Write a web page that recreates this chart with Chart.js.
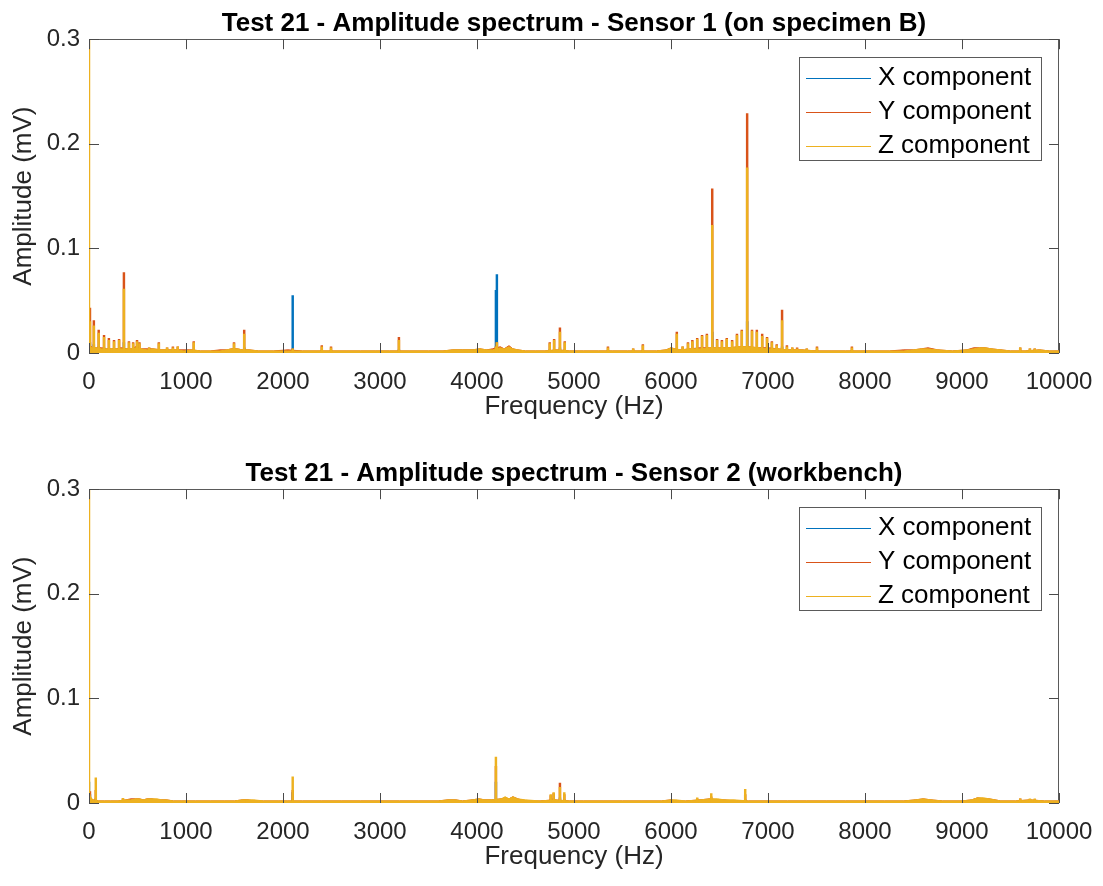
<!DOCTYPE html>
<html><head><meta charset="utf-8">
<script src="https://cdn.jsdelivr.net/npm/chart.js@4.4.1/dist/chart.umd.min.js"></script>
<style>
body{margin:0;background:#fff;}
#wrap{position:relative;width:1103px;height:886px;background:#fff;}
canvas{position:absolute;left:0;}
</style></head><body>
<div id="wrap">
<canvas id="c1" width="1103" height="436" style="top:0px"></canvas>
<canvas id="c2" width="1103" height="436" style="top:450px"></canvas>
</div>
<script>
// ---------- series meta ----------
const seriesLabels = ['X component', 'Y component', 'Z component'];
const seriesColors = ['#0072BD', '#D95319', '#EDB120'];
const chartTitles = ['Test 21 - Amplitude spectrum - Sensor 1 (on specimen B)',
                     'Test 21 - Amplitude spectrum - Sensor 2 (workbench)'];
const xAxisTitle = 'Frequency (Hz)';
const yAxisTitle = 'Amplitude (mV)';

// ---------- Sensor 1: broadband floor (Hz / mV) ----------
const s1BaseFreq = [
  0, 15, 40, 80, 130, 180, 230, 280, 330, 390,
  440, 480, 540, 600, 660, 740, 820, 900, 980, 1060,
  1150, 1250, 1350, 1420, 1470, 1530, 1580, 1650, 1750, 1900,
  2050, 2200, 2350, 2500, 2650, 2800, 2950, 3100, 3300, 3500,
  3650, 3750, 3850, 3950, 4030, 4100, 4160, 4240, 4280, 4330,
  4370, 4420, 4500, 4600, 4700, 4830, 4950, 5100, 5250, 5400,
  5550, 5700, 5850, 5950, 6000, 6040, 6100, 6200, 6300, 6400,
  6500, 6600, 6700, 6800, 6900, 7000, 7100, 7200, 7350, 7500,
  7650, 7800, 7950, 8100, 8250, 8400, 8500, 8580, 8650, 8750,
  8900, 9050, 9120, 9180, 9240, 9300, 9400, 9500, 9650, 9800,
  9900, 10000];
const s1BaseX = [
  0.006, 0.004, 0.003, 0.003, 0.002, 0.002, 0.002, 0.002, 0.002, 0.002,
  0.002, 0.002, 0.002, 0.002, 0.002, 0.002, 0.001, 0.001, 0.001, 0.001,
  0.001, 0.001, 0.001, 0.001, 0.002, 0.002, 0.001, 0.001, 0.001, 0.001,
  0.001, 0.001, 0.001, 0.001, 0.001, 0.001, 0.001, 0.001, 0.001, 0.001,
  0.001, 0.002, 0.002, 0.002, 0.002, 0.002, 0.002, 0.003, 0.002, 0.003,
  0.002, 0.002, 0.001, 0.001, 0.001, 0.002, 0.001, 0.001, 0.001, 0.001,
  0.001, 0.001, 0.001, 0.002, 0.003, 0.002, 0.002, 0.002, 0.002, 0.003,
  0.003, 0.003, 0.003, 0.003, 0.003, 0.002, 0.002, 0.002, 0.002, 0.001,
  0.001, 0.001, 0.001, 0.001, 0.001, 0.001, 0.002, 0.002, 0.002, 0.002,
  0.001, 0.002, 0.002, 0.003, 0.003, 0.002, 0.002, 0.001, 0.001, 0.002,
  0.001, 0.001];
const s1BaseY = [
  0.012, 0.007, 0.005, 0.005, 0.005, 0.004, 0.004, 0.004, 0.005, 0.004,
  0.004, 0.006, 0.004, 0.004, 0.004, 0.003, 0.003, 0.003, 0.003, 0.003,
  0.002, 0.002, 0.003, 0.003, 0.004, 0.004, 0.003, 0.003, 0.002, 0.002,
  0.003, 0.002, 0.002, 0.002, 0.002, 0.002, 0.002, 0.002, 0.002, 0.002,
  0.002, 0.003, 0.003, 0.003, 0.004, 0.003, 0.004, 0.006, 0.004, 0.007,
  0.004, 0.003, 0.002, 0.002, 0.002, 0.003, 0.002, 0.002, 0.002, 0.002,
  0.002, 0.002, 0.002, 0.003, 0.005, 0.004, 0.003, 0.004, 0.005, 0.005,
  0.005, 0.005, 0.006, 0.006, 0.005, 0.005, 0.004, 0.003, 0.003, 0.002,
  0.002, 0.002, 0.002, 0.002, 0.002, 0.003, 0.003, 0.004, 0.005, 0.003,
  0.002, 0.003, 0.005, 0.005, 0.005, 0.004, 0.003, 0.002, 0.002, 0.003,
  0.002, 0.002];
const s1BaseZ = [
  0.009, 0.006, 0.005, 0.005, 0.004, 0.004, 0.004, 0.004, 0.004, 0.004,
  0.004, 0.005, 0.004, 0.003, 0.004, 0.003, 0.003, 0.003, 0.002, 0.003,
  0.002, 0.002, 0.002, 0.003, 0.004, 0.004, 0.003, 0.003, 0.002, 0.002,
  0.002, 0.002, 0.002, 0.002, 0.002, 0.002, 0.002, 0.002, 0.002, 0.002,
  0.002, 0.003, 0.003, 0.003, 0.004, 0.003, 0.003, 0.005, 0.004, 0.006,
  0.004, 0.003, 0.002, 0.002, 0.002, 0.003, 0.002, 0.002, 0.002, 0.002,
  0.002, 0.002, 0.002, 0.003, 0.005, 0.004, 0.003, 0.004, 0.004, 0.005,
  0.005, 0.005, 0.006, 0.006, 0.005, 0.004, 0.004, 0.003, 0.003, 0.002,
  0.002, 0.002, 0.002, 0.002, 0.002, 0.002, 0.003, 0.004, 0.004, 0.003,
  0.002, 0.003, 0.004, 0.005, 0.005, 0.004, 0.003, 0.002, 0.002, 0.003,
  0.002, 0.002];

// ---------- Sensor 1: spectral lines (Hz / mV) ----------
const s1PeakFreq = [
  0, 10, 50, 100, 155, 205, 258, 310, 360, 412,
  455, 495, 520, 620, 720, 805, 865, 915, 1080, 1495,
  1600, 2100, 2400, 2495, 3195, 4195, 4205, 4750, 4795, 4855,
  4905, 5350, 5610, 5710, 6060, 6120, 6175, 6220, 6270, 6320,
  6370, 6425, 6475, 6525, 6575, 6630, 6680, 6730, 6785, 6835,
  6885, 6940, 6990, 7040, 7090, 7145, 7195, 7250, 7300, 7400,
  7505, 7865, 9600, 9700, 9750];
const s1PeakX = [
  0.020, 0.010, 0.008, 0.006, 0.005, 0.004, 0.004, 0.004, 0.010, 0.003,
  0.003, 0.003, 0.003, 0.002, 0.003, 0.002, 0.002, 0.002, 0.003, 0.003,
  0.005, 0.055, 0.002, 0.002, 0.003, 0.060, 0.075, 0.003, 0.003, 0.005,
  0.003, 0.002, 0.002, 0.002, 0.004, 0.003, 0.003, 0.003, 0.003, 0.004,
  0.004, 0.020, 0.003, 0.003, 0.003, 0.003, 0.004, 0.004, 0.030, 0.004,
  0.004, 0.004, 0.003, 0.003, 0.003, 0.006, 0.002, 0.002, 0.002, 0.002,
  0.002, 0.002, 0.002, 0.002, 0.002];
const s1PeakY = [
  0.040, 0.043, 0.031, 0.022, 0.017, 0.014, 0.012, 0.013, 0.077, 0.011,
  0.010, 0.012, 0.010, 0.005, 0.010, 0.005, 0.006, 0.006, 0.011, 0.010,
  0.022, 0.004, 0.007, 0.006, 0.015, 0.006, 0.010, 0.010, 0.013, 0.024,
  0.011, 0.006, 0.004, 0.008, 0.020, 0.006, 0.010, 0.012, 0.014, 0.017,
  0.018, 0.157, 0.013, 0.012, 0.014, 0.012, 0.018, 0.022, 0.229, 0.022,
  0.022, 0.018, 0.015, 0.011, 0.008, 0.041, 0.007, 0.005, 0.005, 0.004,
  0.006, 0.006, 0.005, 0.004, 0.004];
const s1PeakZ = [
  0.300, 0.030, 0.026, 0.019, 0.015, 0.012, 0.011, 0.012, 0.061, 0.010,
  0.009, 0.011, 0.009, 0.005, 0.009, 0.005, 0.005, 0.006, 0.010, 0.009,
  0.018, 0.004, 0.006, 0.005, 0.012, 0.006, 0.010, 0.009, 0.012, 0.020,
  0.010, 0.005, 0.004, 0.007, 0.018, 0.006, 0.009, 0.011, 0.013, 0.016,
  0.017, 0.122, 0.012, 0.011, 0.013, 0.011, 0.017, 0.021, 0.177, 0.021,
  0.020, 0.016, 0.014, 0.010, 0.007, 0.031, 0.006, 0.005, 0.004, 0.004,
  0.005, 0.005, 0.005, 0.004, 0.004];

// ---------- Sensor 2: broadband floor ----------
const s2BaseFreq = [
  0, 15, 40, 100, 160, 220, 300, 380, 430, 480,
  520, 560, 600, 650, 700, 750, 800, 870, 950, 1100,
  1250, 1400, 1500, 1580, 1640, 1700, 1800, 1950, 2050, 2200,
  2400, 2600, 2800, 3000, 3200, 3400, 3600, 3700, 3780, 3850,
  3950, 4020, 4080, 4150, 4250, 4290, 4330, 4370, 4420, 4500,
  4650, 4800, 4950, 5100, 5300, 5500, 5700, 5900, 6000, 6050,
  6150, 6300, 6400, 6480, 6550, 6650, 6800, 7000, 7200, 7400,
  7600, 7800, 8000, 8200, 8400, 8520, 8600, 8680, 8800, 9000,
  9100, 9160, 9220, 9280, 9400, 9550, 9700, 9850, 10000];
const s2BaseX = [
  0.006, 0.003, 0.002, 0.001, 0.001, 0.001, 0.001, 0.002, 0.002, 0.002,
  0.002, 0.002, 0.002, 0.002, 0.002, 0.002, 0.001, 0.001, 0.001, 0.001,
  0.001, 0.001, 0.001, 0.002, 0.002, 0.001, 0.001, 0.001, 0.001, 0.001,
  0.001, 0.001, 0.001, 0.001, 0.001, 0.001, 0.001, 0.002, 0.002, 0.001,
  0.002, 0.002, 0.002, 0.002, 0.002, 0.003, 0.002, 0.003, 0.002, 0.001,
  0.001, 0.001, 0.001, 0.001, 0.001, 0.001, 0.001, 0.001, 0.002, 0.001,
  0.001, 0.002, 0.002, 0.002, 0.002, 0.001, 0.001, 0.001, 0.001, 0.001,
  0.001, 0.001, 0.001, 0.001, 0.001, 0.002, 0.002, 0.002, 0.001, 0.001,
  0.002, 0.003, 0.003, 0.002, 0.001, 0.001, 0.002, 0.001, 0.001];
const s2BaseY = [
  0.010, 0.005, 0.003, 0.002, 0.002, 0.002, 0.002, 0.003, 0.004, 0.004,
  0.004, 0.003, 0.004, 0.004, 0.003, 0.003, 0.003, 0.002, 0.002, 0.002,
  0.002, 0.002, 0.002, 0.003, 0.003, 0.002, 0.002, 0.002, 0.002, 0.002,
  0.002, 0.002, 0.002, 0.002, 0.002, 0.002, 0.002, 0.003, 0.003, 0.002,
  0.003, 0.004, 0.003, 0.003, 0.004, 0.005, 0.004, 0.006, 0.004, 0.002,
  0.002, 0.003, 0.002, 0.002, 0.002, 0.002, 0.002, 0.002, 0.003, 0.002,
  0.002, 0.003, 0.004, 0.003, 0.003, 0.002, 0.002, 0.002, 0.002, 0.002,
  0.002, 0.002, 0.002, 0.002, 0.002, 0.003, 0.004, 0.003, 0.002, 0.002,
  0.003, 0.005, 0.004, 0.004, 0.002, 0.002, 0.003, 0.002, 0.002];
const s2BaseZ = [
  0.011, 0.006, 0.003, 0.002, 0.002, 0.002, 0.002, 0.003, 0.003, 0.004,
  0.004, 0.003, 0.004, 0.004, 0.004, 0.003, 0.003, 0.002, 0.002, 0.002,
  0.002, 0.002, 0.002, 0.003, 0.003, 0.003, 0.002, 0.002, 0.002, 0.002,
  0.002, 0.002, 0.002, 0.002, 0.002, 0.002, 0.002, 0.003, 0.003, 0.002,
  0.003, 0.004, 0.003, 0.003, 0.004, 0.006, 0.004, 0.006, 0.004, 0.003,
  0.002, 0.003, 0.002, 0.002, 0.002, 0.002, 0.002, 0.002, 0.003, 0.003,
  0.002, 0.003, 0.004, 0.004, 0.003, 0.003, 0.002, 0.002, 0.002, 0.002,
  0.002, 0.002, 0.002, 0.002, 0.002, 0.003, 0.004, 0.003, 0.002, 0.002,
  0.003, 0.005, 0.005, 0.004, 0.002, 0.002, 0.003, 0.002, 0.002];

// ---------- Sensor 2: spectral lines ----------
const s2PeakFreq = [0, 10, 70, 350, 1600, 2100, 4195, 4760, 4790, 4855,
                    4900, 6270, 6415, 6765, 9600, 9700, 9750];
const s2PeakX = [0.020, 0.008, 0.004, 0.002, 0.002, 0.010, 0.020, 0.003, 0.004, 0.005,
                 0.003, 0.002, 0.003, 0.003, 0.002, 0.002, 0.002];
const s2PeakY = [0.011, 0.011, 0.012, 0.004, 0.003, 0.012, 0.035, 0.007, 0.009, 0.019,
                 0.008, 0.004, 0.006, 0.008, 0.004, 0.003, 0.003];
const s2PeakZ = [0.300, 0.006, 0.024, 0.0045, 0.003, 0.025, 0.044, 0.008, 0.010, 0.015,
                 0.010, 0.005, 0.009, 0.013, 0.004, 0.004, 0.004];

// ---------- chart building ----------
const FONT = '"Liberation Sans", Arial, Helvetica, sans-serif';
Chart.defaults.font.family = FONT;

function pts(freqs, vals) { return freqs.map((f, i) => ({ x: f, y: vals[i] })); }

const framePlugin = {
  id: 'frame',
  beforeDatasetsDraw(chart) {
    const { ctx, chartArea: a } = chart;
    ctx.save();
    ctx.strokeStyle = '#5a5a5a';
    ctx.lineWidth = 1;
    const l = Math.round(a.left) + 0.5, t = Math.round(a.top) + 0.5;
    const r = Math.round(a.right) - 0.5, b = Math.round(a.bottom) - 0.5;
    ctx.strokeRect(l, t, r - l, b - t);
    ctx.restore();
  },
  afterDatasetsDraw(chart) {
    const { ctx, chartArea: a, scales: { x, y } } = chart;
    ctx.save();
    ctx.strokeStyle = '#4a4a4a';
    ctx.lineWidth = 1;
    ctx.beginPath();
    x.ticks.forEach(tk => {
      const px = Math.round(x.getPixelForValue(tk.value)) + 0.5;
      ctx.moveTo(px, a.bottom); ctx.lineTo(px, a.bottom - 10);
      ctx.moveTo(px, a.top); ctx.lineTo(px, a.top + 10);
    });
    y.ticks.forEach(tk => {
      const py = Math.round(y.getPixelForValue(tk.value)) + 0.5;
      ctx.moveTo(a.left, py); ctx.lineTo(a.left + 10, py);
      ctx.moveTo(a.right, py); ctx.lineTo(a.right - 10, py);
    });
    ctx.stroke();
    ctx.restore();
  },
  afterDraw(chart) {
    const { ctx, chartArea: a } = chart;
    const w = 242, h = 103;
    const right = Math.round(a.right) - 18, left = right - w, top = Math.round(a.top) + 18;
    ctx.save();
    ctx.fillStyle = '#ffffff';
    ctx.fillRect(left, top, w, h);
    ctx.strokeStyle = '#5a5a5a';
    ctx.lineWidth = 1;
    ctx.strokeRect(left + 0.5, top + 0.5, w, h);
    ctx.font = '26px ' + FONT;
    ctx.textBaseline = 'middle';
    ctx.textAlign = 'left';
    seriesLabels.forEach((lab, i) => {
      const yy = top + 21 + 34 * i;
      ctx.strokeStyle = seriesColors[i];
      ctx.beginPath();
      ctx.moveTo(left + 7, yy + 0.5);
      ctx.lineTo(left + 72, yy + 0.5);
      ctx.stroke();
      ctx.fillStyle = '#000';
      ctx.fillText(lab, left + 79, yy);
    });
    ctx.restore();
  }
};

function makeChart(canvasId, title, baseF, baseS, peakF, peakS) {
  const datasets = [];
  for (let k = 0; k < 3; k++) {
    datasets.push({
      type: 'line', label: seriesLabels[k], data: pts(baseF, baseS[k]),
      borderColor: seriesColors[k], backgroundColor: seriesColors[k],
      borderWidth: 1, pointRadius: 0, tension: 0, fill: 'origin', clip: 0,
      order: 6 - 2 * k
    });
    datasets.push({
      type: 'bar', label: seriesLabels[k] + ' lines', data: pts(peakF, peakS[k]),
      backgroundColor: seriesColors[k], borderWidth: 0, barThickness: 1.8,
      grouped: false, clip: 0, order: 5 - 2 * k
    });
  }
  return new Chart(document.getElementById(canvasId), {
    type: 'line',
    data: { datasets },
    options: {
      responsive: false, animation: false,
      layout: { padding: { left: 0, right: 44, top: 0, bottom: 0 } },
      plugins: {
        legend: { display: false },
        tooltip: { enabled: false },
        title: {
          display: true, text: title, color: '#000', fullSize: false,
          font: { size: 26, weight: 'bold', family: FONT, lineHeight: 1.2 },
          padding: { top: 8, bottom: 0 }
        }
      },
      scales: {
        x: {
          type: 'linear', min: 0, max: 10000, offset: false,
          grid: { display: false, drawTicks: false, offset: false },
          border: { display: false },
          ticks: { stepSize: 1000, autoSkip: false, maxRotation: 0, padding: 15,
                   color: '#262626', font: { size: 24 },
                   callback: v => String(v) },
          title: { display: true, text: xAxisTitle, color: '#262626',
                   font: { size: 26 }, padding: { top: 0, bottom: 14 } },
          afterFit: s => { s.height = 83; s.paddingLeft = 0; s.paddingRight = 0; }
        },
        y: {
          min: 0, max: 0.3,
          grid: { display: false, drawTicks: false },
          border: { display: false },
          ticks: { stepSize: 0.1, padding: 9, color: '#262626', font: { size: 24 },
                   callback: v => String(Math.round(v * 10) / 10) },
          title: { display: true, text: yAxisTitle, color: '#262626',
                   font: { size: 26 }, padding: { top: 8, bottom: 0 } },
          afterFit: s => { s.width = 89; s.paddingTop = 0; s.paddingBottom = 0; }
        }
      }
    },
    plugins: [framePlugin]
  });
}

makeChart('c1', chartTitles[0], s1BaseFreq, [s1BaseX, s1BaseY, s1BaseZ],
          s1PeakFreq, [s1PeakX, s1PeakY, s1PeakZ]);
makeChart('c2', chartTitles[1], s2BaseFreq, [s2BaseX, s2BaseY, s2BaseZ],
          s2PeakFreq, [s2PeakX, s2PeakY, s2PeakZ]);
</script>
</body></html>
